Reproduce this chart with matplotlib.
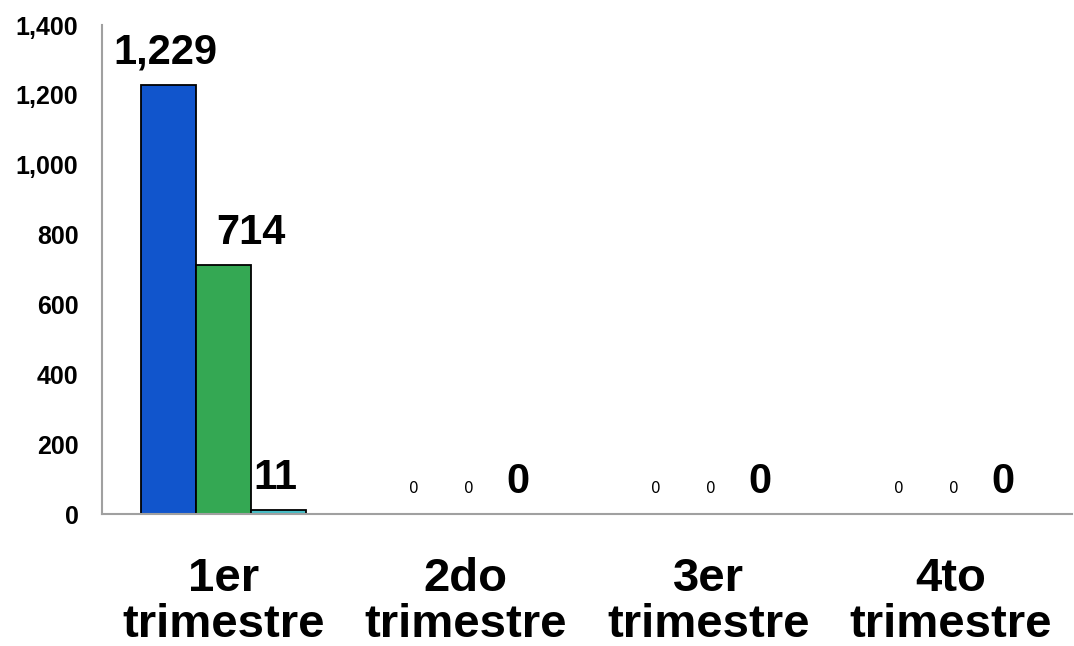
import numpy as np
import matplotlib
matplotlib.use("Agg")
import matplotlib.pyplot as plt

# data
categories = ["1er\ntrimestre", "2do\ntrimestre", "3er\ntrimestre", "4to\ntrimestre"]
serie_a = [1229, 0, 0, 0]
serie_b = [714, 0, 0, 0]
serie_c = [11, 0, 0, 0]
# which labels are drawn big and bold (the others are small)
big_a = [True, False, False, False]
big_b = [True, False, False, False]
big_c = [True, True, True, True]
yticks = [0, 200, 400, 600, 800, 1000, 1200, 1400]

colors = ["#1155cc", "#34a853", "#46bdc6"]
# horizontal nudge of the big labels per series (points)
nudge = [-2, 20, -2]

fig = plt.figure(figsize=(10.74, 6.46), dpi=100)
ax = fig.add_axes([0.095, 0.2043, 0.903, 0.757])

x = np.arange(len(categories))
w = 0.227
series = [serie_a, serie_b, serie_c]
bigs = [big_a, big_b, big_c]
for i, (vals, big) in enumerate(zip(series, bigs)):
    pos = x + (i - 1) * w
    ax.bar(pos, vals, width=w, color=colors[i], edgecolor="black", linewidth=1.3)
    for px, v, b in zip(pos, vals, big):
        if b:
            ax.annotate(f"{v:,}", (px, v), xytext=(nudge[i], 15), textcoords="offset points",
                        ha="center", va="baseline", fontsize=30, fontweight="bold",
                        family="Liberation Sans")
        else:
            ax.annotate(f"{v:,}", (px, v), xytext=(2, 15), textcoords="offset points",
                        ha="center", va="baseline", fontsize=11, family="DejaVu Sans")

ax.set_xlim(-0.5, len(categories) - 0.5)
ax.set_ylim(0, 1400)
ax.set_yticks(yticks)
ax.set_yticklabels([f"{t:,}" for t in yticks], fontsize=18, fontweight="bold",
                   family="Liberation Sans")
ax.set_xticks(x)
ax.set_xticklabels(categories, fontsize=34, fontweight="bold", family="Liberation Sans",
                   linespacing=1.05)
ax.tick_params(axis="y", length=0, pad=17)
ax.tick_params(axis="x", length=0, pad=31)

for s in ["top", "right"]:
    ax.spines[s].set_visible(False)
for s in ["left", "bottom"]:
    ax.spines[s].set_color("#a0a0a0")
    ax.spines[s].set_linewidth(1.5)

fig.savefig("out.png", dpi=100)
